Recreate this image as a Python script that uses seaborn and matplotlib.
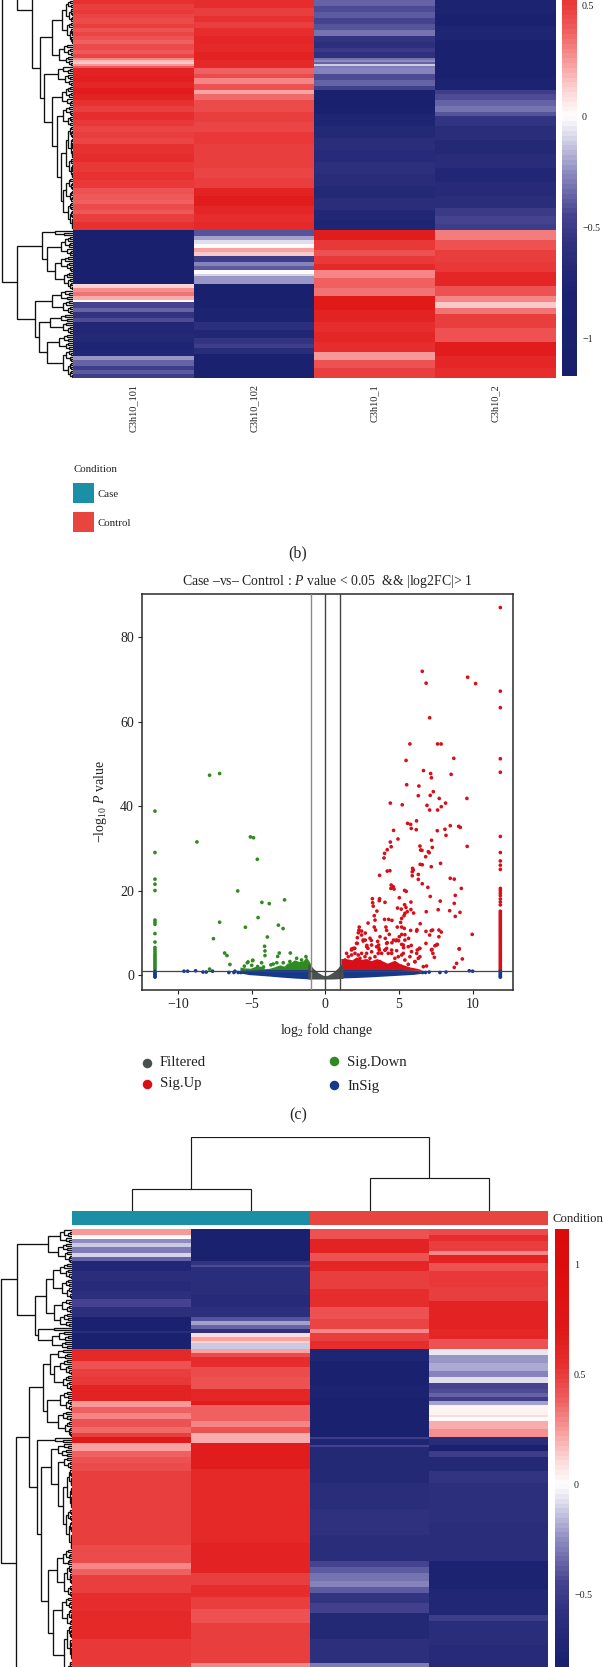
import numpy as np
import pandas as pd
import matplotlib
matplotlib.use("Agg")
import matplotlib.pyplot as plt
from matplotlib.colors import LinearSegmentedColormap, ListedColormap
from matplotlib.patches import Rectangle
import seaborn as sns

sns.set_style("white")
plt.rcParams['font.family'] = ['Liberation Serif', 'DejaVu Sans']
plt.rcParams.update({'mathtext.fontset': 'custom', 'mathtext.rm': 'Liberation Serif',
                     'mathtext.it': 'Liberation Serif:italic', 'mathtext.bf': 'Liberation Serif:bold',
                     'mathtext.default': 'regular'})

W, H = 603, 1667
INK = '#222222'

# ---------- data: heatmap (b), run-length value/row-count per sample ----------
b_samples = ['C3h10_101', 'C3h10_102', 'C3h10_1', 'C3h10_2']
b1_vals = [.54,.5,.52,.47,.44,.49,.43,.47,.42,.38,.44,.4,.46,.3,.18,.14,.25,.4,.62,.65,.6,.67,.62,.54,.5,.56,.52,.47,.49,.46,.53,.55,.51,.54,.52,.43,.4,.38,.45,.41,.5,.53,
           -.95,-.9,-.98,.12,.28,.34,.2,.02,-.45,-.35,-.55,-.42,-.72,-.68,-.76,-.7,-.22,-.35,-.5,-.38,-.5]
b1_runs = [2,3,2,2,3,2,2,2,2,2,3,2,2,1,1,1,1,1,4,3,3,3,3,3,3,4,3,3,3,3,5,4,5,4,4,3,3,2,3,2,4,4,
           10,8,9,2,2,2,2,1,3,2,3,2,6,4,4,3,2,3,2,2,2]
b2_vals = [.55,.5,.53,.5,.56,.6,.57,.62,.58,.38,.45,.3,.42,.22,.36,.45,.5,.46,.52,.48,.5,.46,.5,.62,.66,.6,.55,.58,
           -.4,-.2,-.08,.02,.22,.14,-.5,-.28,-.38,0,-.1,-.22,-.92,-.85,-.78,-.6,-.7,-.55,-.5,-.65,-.88,-.82]
b2_runs = [4,4,3,3,4,4,4,4,4,3,2,3,3,2,3,6,5,5,6,6,6,5,5,4,5,4,4,4,
           3,2,2,2,2,2,3,2,2,2,1,4,7,5,7,4,4,3,2,3,7,5]
b3_vals = [-.35,-.42,-.38,-.45,-.4,-.32,-.55,-.6,-.52,-.58,-.32,-.25,-.35,-.12,-.3,-.28,-.42,-.36,-.46,-.8,-.9,-.85,-.75,-.68,-.62,-.66,-.6,-.65,-.68,-.62,-.7,-.75,
           .66,.52,.42,.52,.58,.3,.38,.34,.68,.62,.55,.6,.55,.25,.42,.5]
b3_runs = [3,3,3,3,3,3,3,3,2,3,1,1,1,1,1,3,3,3,2,4,4,4,6,6,6,6,6,6,6,6,5,5,
           5,5,3,4,3,4,5,4,7,6,5,5,5,4,4,5]
b4_vals = [-.78,-.82,-.76,-.85,-.8,-.85,-.78,-.5,-.42,-.36,-.32,-.4,-.55,-.62,-.68,-.64,-.7,-.66,-.62,-.52,-.44,-.5,
           .32,.42,.48,.52,.6,.42,.3,.15,.34,.48,.42,.66,.6,.56]
b4_runs = [7,6,7,6,6,7,6,2,3,3,3,2,5,7,7,7,7,7,6,4,4,3,
           5,5,6,5,7,5,3,3,3,7,7,7,6,5]

# ---------- data: heatmap (d) ----------
d1_vals = [.25,.02,-.25,-.12,-.3,-.1,-.35,-.7,-.62,-.66,-.6,-.45,-.6,-.8,-.62,-.8,
           .58,.42,.48,.52,.62,.25,.38,.3,.42,.35,.5,
           .68,.22,.38,.42,.45,.5,.48,.5,.45,.3,.38,.5,.55,.58,.52,.5]
d1_runs = [3,2,2,2,3,2,2,5,5,5,4,4,5,7,1,8,
           6,4,4,4,8,3,3,3,4,3,2,
           3,4,3,3,4,17,10,10,9,3,3,9,9,14,13,1]
d2_vals = [-.8,-.55,-.42,-.6,-.62,-.66,-.6,-.4,-.2,-.35,-.6,.1,.22,.12,-.12,
           .22,.45,.55,.45,.42,.6,.66,.38,.3,.42,.2,
           .2,.66,.57,.62,.5,.56,.48,.42,.48,.5,.3]
d2_runs = [16,2,1,2,12,6,5,2,2,2,2,2,2,1,3,
           2,2,5,5,6,6,2,8,3,3,2,
           3,13,37,15,6,6,6,7,7,13,2]
d3_vals = [.42,.62,.42,.6,.5,.55,.42,.46,.3,.48,.55,
           -.75,-.8,-.85,-.78,-.82,-.88,-.85,
           -.5,-.75,-.45,-.68,-.62,-.58,-.62,-.45,-.38,-.32,-.28,-.38,-.55,-.48,-.68,-.6,-.3]
d3_runs = [5,7,4,5,9,9,6,5,2,4,4,
           6,6,6,6,6,7,7,
           1,3,1,18,13,13,13,3,3,4,3,3,5,5,13,12,2]
d4_vals = [.45,.55,.5,.3,.62,.42,.52,.48,.62,.6,.42,
           -.05,-.22,-.18,-.28,-.08,-.45,-.42,-.35,-.5,-.2,.03,.1,0,.2,.28,
           -.65,-.8,-.5,-.68,-.55,-.6,-.63,-.78,-.72,-.5,-.62,-.66]
d4_runs = [3,3,5,2,4,4,8,7,14,5,5,
           3,4,4,3,3,3,2,2,2,2,5,1,2,4,4,
           4,3,3,7,6,20,19,14,13,3,12,11]

# ---------- data: dendrograms, [merge height, child, child]; (rows, height) is a tight cluster ----------
b_row_tree = [71.2,
              [56, (17, 15),
               [41, (48, 15),
                [33, [21, (22, 11), (11, 14)],
                 [29, (10, 15),
                  [21.5, (10, 11),
                   [16, (10, 10), [12, (26, 7), (26, 10)]]]]]]],
              [56,
               [31, (3, 18), [26, (10, 12), (17, 18)]],
               [38.5, [21, (5, 12), (7, 10)],
                [34.5, [23, (4, 12), (6, 10)], [26, (8, 14), (14, 10)]]]]]
d_row_tree = [71.3,
              [55.3,
               [24.3, (7, 12), (10, 14)],
               [37.3,
                [26.3, [19, (8, 12), (10, 10)], [18, (7, 10), (7, 12)]],
                [34, (2, 18), (9, 20)]]],
              [56.3,
               [43.3,
                [29.3,
                 [22.3, (5, 14), (16, 18)],
                 [25.3, (10, 12), (13, 14)]],
                [35.8, (3, 17),
                 [31.3,
                  [21.3, [14, (3, 8), (4, 10)],
                   [14.3, (6, 8), [9, (20, 5), (20, 6)]]],
                  [24.3,
                   [15.6, (8, 9), (16, 8)],
                   [19, (14, 10), (30, 8)]]]]],
               (4, 10)]]
d_col_tree = [74, [22.7, 1, 1], [33.2, 1, 1]]
d_conditions = [0, 0, 1, 1]
condition_names = ['Case', 'Control']
condition_colors = ['#1a8fa5', '#e8453f']

# ---------- data: volcano (c) ----------
up_x = [5.52,6.35,6.31,7.12,7.33,7.73,9.61,4.41,5.22,6.9,8.16,7.87,7.08,7.62,5.58,6.19,5.79,5.83,6.17,4.63,7.6,8.12,8.48,9.05,9.16,8.19,4.41,4.93,4.47,4.2,4.02,3.98,6.42,6.47,6.56,7.26,7.21,9.63,6.99,7.05,6.81,6.44,6.58,7.19,7.82,5.92,5.97,4.2,4.38,5.9,6.31,5.9,3.68,6.31,8.48,8.75,6.58,6.96,4.47,4.61,4.45,4.66,5.38,5.49,9.23,8.82,7.12,5.02,3.19,3.68,3.66,3.21,3.25,4.05,5.38,5.81,8.75,7.8,4.9,5.15,5.47,5.81,3.5,5.56,5.4,5.34,5.99,6.85,7.66,8.44,9.14,8.82,3.32,3.37,4.02,4.3,4.52,5.18,5.11,6.44,2.9,3.32,2.3,4.11,4.88,5.18,5.36,5.79,6.2,6.83,7.19,7.28,7.71,7.87,2.28,2.46,2.71,2.24,3.41,4.16,6.22,5.4,5.18,2.46,3.71,2.17,4.07,4.34,4.63,5.02,4.97,5.4,5.65,7.08,7.71,9.97,2.17,2.71,2.57,3.12,2.82,3.55,3.62,4.2,4.52,4.79,5.18,5.83,6.83,7.44,7.6,1.78,1.96,2.89,3.64,4.16,5.31,6.38,7.24,9.09,
        6.58,6.84,9.66,10.2,7.08,5.74,7.62,7.86,8.72,5.48,6.66,7.15,7.2,8.54,1.44,1.78,2.0,2.8,3.14,3.59,4.05,4.5,4.84,5.29,5.74,6.2,6.24,6.42,6.08,6.65,6.87,7.3,7.2,7.55,7.4,9.09,9.3,8.91,8.75,
        1.33,1.56,1.9,2.01,2.23,2.46,2.69,1.78,2.12,2.57,3.03,3.14,2.8,3.48,3.66,3.82,4.05,4.27,4.5,4.72,4.95,5.18,4.16,4.84,5.29,5.63,5.85,6.42,6.31,6.08,5.63,5.18,3.7,3.03,3.37,5.4,2.35,1.67]
up_y = [45.05,44.74,42.45,42.53,43.4,41.8,41.8,40.7,40.3,40.16,40.7,39.85,39.06,39.06,35.9,36.5,35.66,34.7,34.4,34.24,34.16,34.5,35.35,35.2,34.95,33.06,31.48,32.2,30.37,29.66,28.8,27.7,30.53,29.6,29.5,30.2,31.9,30.45,29.2,28.95,28,26.2,26.1,25.64,26.43,25.25,24.85,24.6,24.7,24.45,23.8,23.5,23.6,22.64,22.9,22.7,21.6,20.75,21.3,20.9,20.5,20.35,20.03,19.8,20.5,18.85,18.6,18.3,18.06,18.06,17.6,17.1,16.3,17.2,16.64,17.27,16.96,17.5,15.85,15.6,16,15.5,15.14,14.98,14.6,14.04,14.67,14.98,15.46,15.22,14.83,13.88,14.04,13,13.17,13.17,12.93,13.4,12.46,12.14,12.3,11.35,11.35,11.35,11.35,11.35,11.04,10.56,10.4,10.33,10.5,10.64,10.64,10.17,10.64,10.4,9.93,10,10.64,10.56,10.72,9.54,9.6,9.46,9.06,8.83,8.67,9.62,8.27,9.06,8.12,8.27,8.67,9.46,9.06,9.62,7.49,8.27,8.04,8.2,7,7.96,7.09,7.64,7.64,8.12,7.25,7,7.49,6.93,7.25,6.14,6.3,6.3,6.3,6.3,6.46,6.3,6.06,6.22,
        71.9,69.1,70.5,69,60.9,54.7,54.7,54.7,51.3,50.8,48.4,47.7,46.7,47.5,5.13,5.92,6.3,5.13,5.5,5.13,5.92,5.13,5.76,5.13,4.34,5.13,5.92,4.34,3.15,1.97,2.13,5.13,5.92,7.1,4.18,6.15,3.8,2.76,1.8,
        3.55,4.34,6.3,5.13,4.74,5.13,4.34,4.74,7.5,8.3,8.7,7.1,6.7,6.7,5.9,5.13,5.9,5.13,5.9,3.95,4.34,4.74,7.5,8.3,7.1,6.7,5.53,6.3,3.95,3.16,2.53,1.98,3.16,3.95,4.34,3.55,3.95,3.16]
up_edge_y = [87,67.2,63.3,51.2,48,32.8,29,27,26,25,20.5,20,19.4,18.8,18,17.3,16.6,15.1,14.7,14.3,13.9,13.5,13.1,12.7,12.3,11.9,11.5,11.1,10.7,10.3,9.9,9.5,9.1,8.7,8.3,7.9,7.5,7.1,6.7,6.3,5.9,5.5,5.1,4.7,4.3,3.9,3.5,3.1,2.7,2.3,1.9,1.5,1.2]
down_x = [-7.86,-7.18,-8.72,-5.09,-4.88,-4.62,-5.95,-4.31,-3.81,-2.77,-4.57,-7.18,-5.43,-3.19,-2.87,-7.6,-3.94,-4.13,-6.84,-6.68,-6.48,-4.1,-4.1,-3.13,-3.24,-2.38,-7.86,-4.93,-5.25,
          -5.3,-4.94,-4.33,-3.54,-2.86,-2.41,-1.95,-1.62,-1.32,-5.5,-5.0,-4.6,-4.2,-3.7,-3.3]
down_y = [47.3,47.7,31.5,32.7,32.5,27.4,19.9,17.2,16.9,17.8,13.6,12.5,11.3,11.8,11,8.6,9,6.8,5.2,4.6,2.5,5.7,4.6,5.2,4.4,5.2,1.4,3.5,3.1,
          2.9,3.4,2.9,2.6,2.9,3.2,3.95,3.55,4.35,2.1,2.3,2.0,1.9,2.4,2.9]
down_edge_y = [38.8,29,22.7,21.5,20,13,12.5,12,9.8,7.8,6.5,6,5.5,5,4.6,4.2,3.8,3.4,3,2.6,2.2,1.8,1.4]
insig_x = [-9.6,-9.35,-8.81,-8.31,-8.09,-7.66,-6.55,-6.14,-6.21,-5.92,-5.74,-5.58,-5.35,6.6,6.8,7.05,7.78,8.19,9.77,10]
insig_y = [.9,.9,1,.7,.7,.9,.6,.9,.6,.6,.6,.7,.7,.6,.6,.7,.6,.7,1,.9]
insig_edge_y = [.9,.6,.3,0,-.3,-.5]
up_col_x = 11.88
down_col_x = -11.57

band_down_x = [-5.8,-5.5,-5.1,-4.8,-4.4,-4.1,-3.8,-3.5,-3.1,-2.8,-2.6,-2.3,-2.1,-1.8,-1.5,-1.3,-.95]
band_down_top = [1.9,1.7,1.6,2,2.1,1.5,1.6,1.9,2.4,2.1,2.8,3.1,3.6,3.2,3.4,4.3,2.4]
band_up_x = [1.05,1.4,1.8,2.1,2.4,2.8,3.1,3.5,3.9,4.2,4.7,5,5.3,5.75,6.2,6.5]
band_up_top = [3.9,3.9,3.6,4.3,3.7,3.9,3.4,3.9,3.3,2.8,3.5,2.8,2.4,1.9,1.6,1.3]
band_insig_left_x = [-5.8,-5.2,-4,-3,-2,-.95]
band_insig_left_top = [.8,1.2,1.3,1.3,1.3,1.3]
band_insig_left_bot = [.5,.1,-.2,-.5,-.75,-.95]
band_insig_right_x = [1.0,2,3,4,5,6,6.5]
band_insig_right_top = [1.3,1.3,1.3,1.3,1.3,1.1,.7]
band_insig_right_bot = [-.7,-.6,-.45,-.25,-.05,.15,.4]
vee_x = [-1.2,-1,-.8,-.5,-.2,0,.2,.5,.8,1,1.2]
vee_top = [2.6,2.3,1.5,.6,0,-.2,0,.6,1.5,2.3,2.6]
vee_bot = [-.9,-.95,-.95,-.95,-.95,-.95,-.95,-.95,-.9,-.85,-.8]
group_names = ['Filtered', 'Sig.Up', 'Sig.Down', 'InSig']
group_colors = ['#4a4f4f', '#d80f18', '#2f8a1f', '#17398c']
x_ticks = [-10, -5, 0, 5, 10]
y_ticks = [0, 20, 40, 60, 80]
cut_x = [-1, 0, 1]
cut_y = 0.85

heat_cmap = LinearSegmentedColormap.from_list('heat', [
    (0.0, '#181e6a'), (0.4/2.4, '#1a2270'), (0.6/2.4, '#2c2f7c'), (0.75/2.4, '#45438f'),
    (0.95/2.4, '#8f8cc2'), (1.1/2.4, '#d5d4e8'), (0.5, '#ffffff'), (1.3/2.4, '#fcdcdc'),
    (1.45/2.4, '#f79a9a'), (1.6/2.4, '#ef5a5a'), (1.75/2.4, '#e62e2e'), (1.9/2.4, '#e01818'),
    (2.2/2.4, '#dd0c0c'), (1.0, '#dc0a0a')], N=110)

fig = plt.figure(figsize=(W / 100, H / 100), dpi=100, facecolor='white')


def px_axes(x0, y0, x1, y1, **kw):
    return fig.add_axes([x0 / W, 1 - y1 / H, (x1 - x0) / W, (y1 - y0) / H], **kw)


def expand(vals, runs):
    return np.repeat(np.array(vals, float), runs)


def fine(n, h, state):
    if n == 1:
        return 1
    f = [.5, .35, .6, .4, .3, .55, .45][state[0] % 7]
    state[0] += 1
    k = min(n - 1, max(1, int(round(n * f))))
    return [h, fine(k, h * .66, state), fine(n - k, h * .52, state)]


def lay_out(node, cur, segs, state):
    if isinstance(node, tuple):
        node = fine(node[0], node[1], state)
    if node == 1:
        c = cur[0] + .5
        cur[0] += 1
        return c, 0.0
    h, a, b = node
    ca, ha = lay_out(a, cur, segs, state)
    cb, hb = lay_out(b, cur, segs, state)
    segs.append(([ca, ca, cb, cb], [ha, h, h, hb]))
    return (ca + cb) / 2, h


def draw_row_tree(ax, tree, start, rows, hmax):
    segs = []
    lay_out(tree, [start], segs, [0])
    for ys, hs in segs:
        ax.plot(hs, ys, color='#111111', lw=0.95, solid_joinstyle='miter')
    ax.set_xlim(hmax, 0)
    ax.set_ylim(rows, 0)
    ax.axis('off')


def heat(ax, cols, cbar_ax, ticks, clim, labels=None):
    df = pd.DataFrame(np.column_stack(cols), columns=labels if labels else None)
    sns.heatmap(df, ax=ax, cmap=heat_cmap, vmin=-1.2, vmax=1.2, cbar_ax=cbar_ax,
                yticklabels=False, xticklabels=bool(labels))
    cb = ax.collections[0].colorbar
    cb.outline.set_visible(False)
    cb.set_ticks(ticks)
    cb.set_ticklabels([('\u2212' + str(abs(t))) if t < 0 else str(t) for t in ticks])
    cb.ax.set_ylim(*clim)
    cb.ax.tick_params(length=0, pad=4, labelsize=7.2, labelcolor=INK)
    ax.set_xlabel('')
    ax.set_ylabel('')


# ---------- (b) ----------
ax_b = px_axes(73, 0, 555.8, 378)
cb_b = px_axes(562, 0, 576.5, 376)
heat(ax_b, [expand(b1_vals, b1_runs), expand(b2_vals, b2_runs), expand(b3_vals, b3_runs), expand(b4_vals, b4_runs)],
     cb_b, [-1, -0.5, 0, 0.5], (-1.17, 0.524), labels=b_samples)
ax_b.tick_params(axis='x', length=0, pad=4.3, labelsize=7.5, labelcolor=INK, labelrotation=90)
for t in ax_b.get_xticklabels():
    t.set_va('top')
draw_row_tree(px_axes(0, 0, 73, 378), b_row_tree, -65, 189, 73)

overlay = px_axes(0, 0, W, H)
overlay.set_xlim(0, W)
overlay.set_ylim(H, 0)
overlay.axis('off')
overlay.patch.set_alpha(0)
overlay.set_zorder(-1)


def ftext(x, y, s, size, ha='left', va='center', **kw):
    fig.text(x / W, 1 - y / H, s, fontsize=size, ha=ha, va=va, color=INK, **kw)


ftext(73.8, 469.6, 'Condition', 7.8)
for name, col, y0 in zip(condition_names, condition_colors, [483, 512]):
    overlay.add_patch(Rectangle((73, y0), 20.5, 19.7, color=col, lw=0))
    ftext(97.7, y0 + 11.5, name, 7.8)
ftext(298, 553, '(b)', 11.5, ha='center')

# ---------- (c) ----------
ax_c = px_axes(142.3, 593.6, 512.7, 990)
ax_c.fill_between(band_down_x, 1.1, band_down_top, color=group_colors[2], lw=0)
ax_c.fill_between(band_up_x, 1.1, band_up_top, color=group_colors[1], lw=0)
ax_c.fill_between(band_insig_left_x, band_insig_left_bot, band_insig_left_top, color=group_colors[3], lw=0)
ax_c.fill_between(band_insig_right_x, band_insig_right_bot, band_insig_right_top, color=group_colors[3], lw=0)
ax_c.fill_between(vee_x, vee_bot, vee_top, color=group_colors[0], lw=0)
pts = pd.DataFrame({
    'x': up_x + [up_col_x] * len(up_edge_y) + down_x + [down_col_x] * len(down_edge_y)
         + insig_x + [up_col_x] * len(insig_edge_y) + [down_col_x] * len(insig_edge_y),
    'y': up_y + up_edge_y + down_y + down_edge_y + insig_y + insig_edge_y + insig_edge_y,
    'g': ['Sig.Up'] * (len(up_x) + len(up_edge_y)) + ['Sig.Down'] * (len(down_x) + len(down_edge_y))
         + ['InSig'] * (len(insig_x) + 2 * len(insig_edge_y)),
})
sns.scatterplot(data=pts, x='x', y='y', hue='g', palette=dict(zip(group_names, group_colors)),
                s=7, linewidth=0, legend=False, ax=ax_c)
ax_c.set_xlim(-12.43, 12.72)
ax_c.set_ylim(-3.55, 90.3)
for xc, col in zip(cut_x, ['#8a8a8a', '#444444', '#444444']):
    ax_c.axvline(xc, color=col, lw=1.0, zorder=5)
ax_c.axhline(cut_y, color='#444444', lw=0.9, zorder=5)
ax_c.set_xticks(x_ticks)
ax_c.set_yticks(y_ticks)
ax_c.set_xticklabels([str(t).replace('-', '\u2212') for t in x_ticks])
ax_c.tick_params(length=3, width=0.8, pad=3, labelsize=10, labelcolor=INK, color=INK, bottom=True, left=True)
for s in ax_c.spines.values():
    s.set_visible(True)
    s.set_color('#2a2a2a')
    s.set_linewidth(1.1)
ax_c.set_xlabel('')
ax_c.set_ylabel('')
ftext(327, 581.4, 'Case \u2013vs\u2013 Control : $\\mathit{P}$ value < 0.05  && |log2FC|> 1', 9.9, ha='center')
ftext(327, 1029.6, 'log$_2$ fold change', 10, ha='center')
ftext(101, 802, '\u2212log$_{10}$ $\\mathit{P}$ value', 10, ha='center', rotation=90)
for name, col, mx, my, ty in zip(group_names, group_colors, [146.5, 146.5, 334, 334], [1063, 1084, 1061, 1085], [1063, 1084, 1062, 1086]):
    overlay.scatter([mx], [my], s=47, color=col, linewidths=0)
    ftext(mx + 13.5, ty, name, 10.6)
ftext(298, 1115, '(c)', 11.5, ha='center')

# ---------- (d) ----------
ax_d = px_axes(72.3, 1229, 548, 1667)
cb_d = px_axes(555, 1229, 568.5, 1667)
heat(ax_d, [expand(d1_vals, d1_runs), expand(d2_vals, d2_runs), expand(d3_vals, d3_runs), expand(d4_vals, d4_runs)],
     cb_d, [-0.5, 0, 0.5, 1], (-0.83, 1.16))
draw_row_tree(px_axes(0, 1229, 72.3, 1667), d_row_tree, 0, 219, 72.3)

ax_ann = px_axes(72.3, 1211.4, 548, 1225.3)
sns.heatmap(np.array([d_conditions]), ax=ax_ann, cmap=ListedColormap(condition_colors), vmin=0, vmax=1,
            cbar=False, xticklabels=False, yticklabels=False)
ftext(552.3, 1219, 'Condition', 9.2)

ax_top = px_axes(72.3, 1137, 548, 1211.4)
segs = []
lay_out(d_col_tree, [0], segs, [0])
for xs, hs in segs:
    ax_top.plot(xs, hs, color='#1a1a1a', lw=0.85, solid_joinstyle='miter')
ax_top.set_xlim(0, 4)
ax_top.set_ylim(0, 74.4)
ax_top.axis('off')

fig.savefig('out.png', dpi=100)
